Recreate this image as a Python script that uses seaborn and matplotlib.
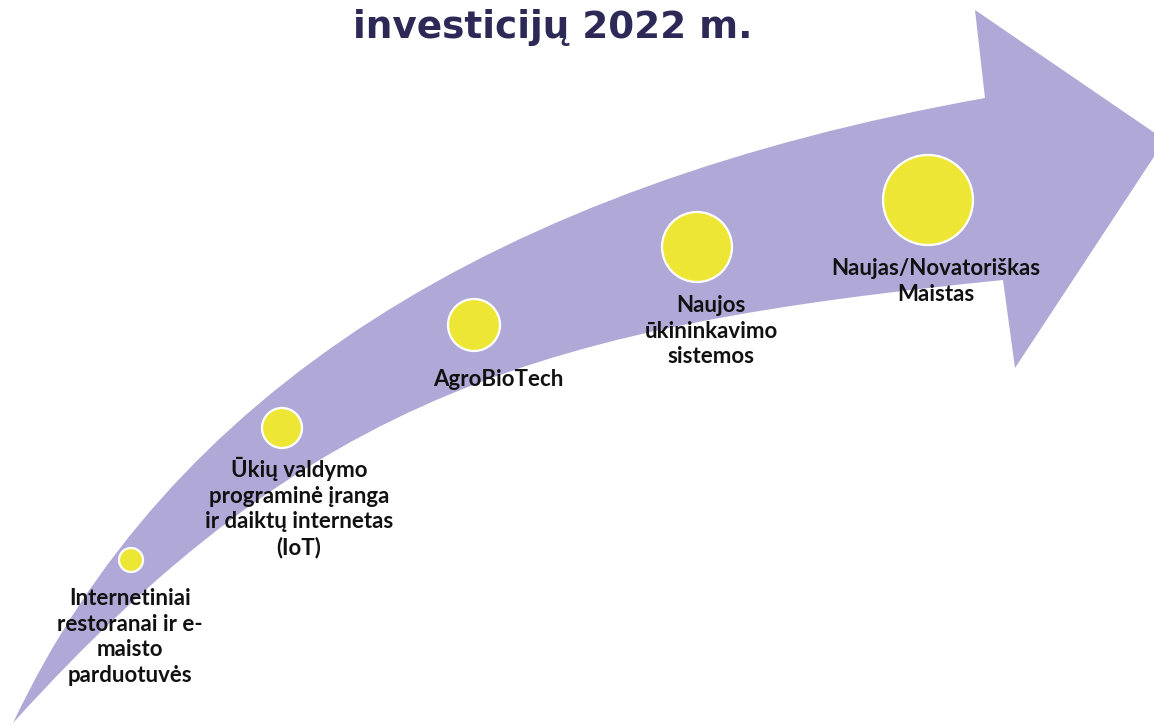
import matplotlib
matplotlib.use("Agg")
import matplotlib.pyplot as plt
from matplotlib.path import Path
from matplotlib.patches import PathPatch
import numpy as np
import pandas as pd
import seaborn as sns

# ---------------- data ----------------
stages = [
    "Internetiniai\nrestoranai ir e-\nmaisto\nparduotuvės",
    "Ūkių valdymo\nprograminė įranga\nir daiktų internetas\n(IoT)",
    "AgroBioTech",
    "Naujos\nūkininkavimo\nsistemos",
    "Naujas/Novatoriškas\nMaistas",
]
# relative bubble size (radius units)
bubble_size = [13, 21, 27, 36, 46]
# bubble centres on the canvas grid (x to the right, y downward)
bubble_x = [131, 282, 474, 697, 928]
bubble_y = [560, 428, 325, 247, 200]
# label anchor (centre x, top y)
label_x = [130, 299, 498, 711, 936]
label_y = [588, 457, 369, 295, 258]
title_text = "investicijų 2022 m."

W, H = 1154, 725
DPI = 100

sns.set_theme(style="white")
plt.rcParams["font.family"] = ["Lato", "DejaVu Sans"]

fig = plt.figure(figsize=(W / DPI, H / DPI), dpi=DPI)
ax = fig.add_axes([0, 0, 1, 1])
ax.set_xlim(0, W)
ax.set_ylim(H, 0)
ax.axis("off")

# ---------------- curved arrow ----------------
tail = (13, 723)
up_end = (985, 98)
barb_up = (975, 10)
tip = (1165, 140)
barb_lo = (1015, 368)
lo_end = (1003, 280)
up_ctrl = (245, 230)
lo_c1 = (313, 391)
lo_c2 = (548, 326)

verts = [tail, up_ctrl, up_end, barb_up, tip, barb_lo, lo_end, lo_c2, lo_c1, tail, tail]
codes = [Path.MOVETO, Path.CURVE3, Path.CURVE3, Path.LINETO, Path.LINETO,
         Path.LINETO, Path.LINETO, Path.CURVE4, Path.CURVE4, Path.CURVE4, Path.CLOSEPOLY]
arrow = PathPatch(Path(verts, codes), facecolor="#B0A8D7", edgecolor="none", zorder=1)
ax.add_patch(arrow)

# ---------------- bubbles ----------------
df = pd.DataFrame({"stage": stages, "x": bubble_x, "y": bubble_y, "size": bubble_size})
px2pt = 72.0 / DPI
marker_area = [(2 * (r - 1) * px2pt) ** 2 for r in df["size"]]
sns.scatterplot(data=df, x="x", y="y", s=marker_area, color="#EDE634",
                edgecolor="white", linewidth=1.6, ax=ax, zorder=3, legend=False)
ax.set_xlim(0, W)
ax.set_ylim(H, 0)
ax.axis("off")

# ---------------- labels ----------------
for txt, lx, ly in zip(stages, label_x, label_y):
    ax.text(lx, ly, txt, ha="center", va="top", fontsize=16, fontweight="bold",
            color="#111111", linespacing=1.27, zorder=4)

ax.text(553, 38, title_text, ha="center", va="baseline", fontsize=26.9,
        fontweight="bold", color="#2C2957", family=["DejaVu Sans"], zorder=5)

fig.savefig("out.png", dpi=DPI)
